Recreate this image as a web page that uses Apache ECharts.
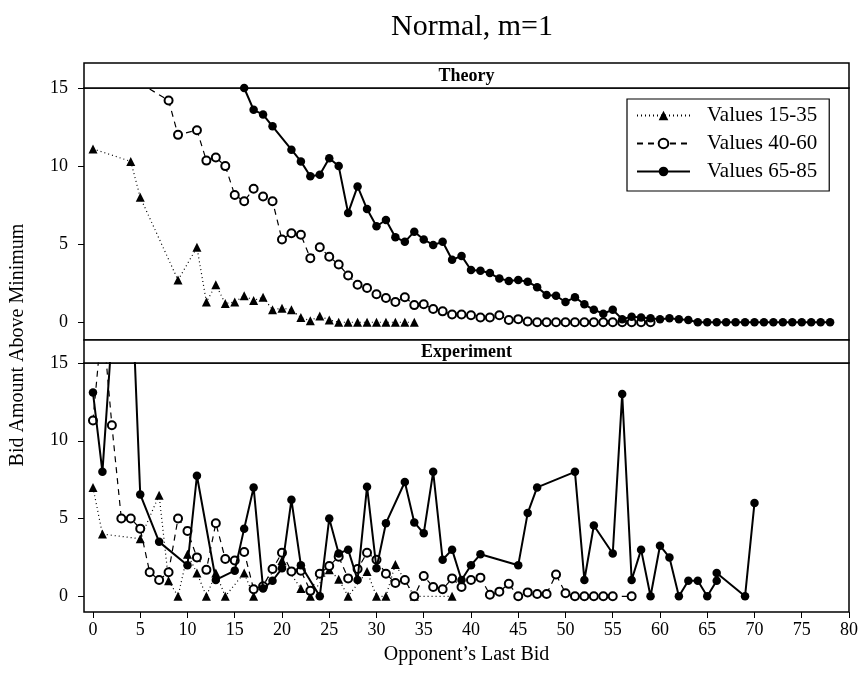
<!DOCTYPE html>
<html>
<head>
<meta charset="utf-8">
<script src="https://cdn.jsdelivr.net/npm/echarts@6/dist/echarts.min.js"></script>
<style>html,body{margin:0;padding:0;background:#fff}#c{width:862px;height:686px}</style>
</head>
<body>
<div id="c"></div>
<script>
// ---- Data ----
const xTicks = [0,5,10,15,20,25,30,35,40,45,50,55,60,65,70,75,80];
const yTicks = [0,5,10,15];
const seriesNames = ['Values 15-35','Values 40-60','Values 65-85'];

// Theory panel
const theoryX15 = [0,4,5,9,11,12,13,14,15,16,17,18,19,20,21,22,23,24,25,26,27,28,29,30,31,32,33,34];
const theoryY15 = [11.1,10.3,8.0,2.7,4.8,1.3,2.4,1.2,1.3,1.7,1.4,1.6,0.8,0.9,0.8,0.3,0.1,0.4,0.15,0,0,0,0,0,0,0,0,0];

const theoryX40 = [5,8,9,11,12,13,14,15,16,17,18,19,20,21,22,23,24,25,26,27,28,29,30,31,32,33,34,35,36,37,38,39,40,41,42,43,44,45,46,47,48,49,50,51,52,53,54,55,56,57,58,59];
const theoryY40 = [15.3,14.2,12.0,12.3,10.35,10.55,10.0,8.15,7.75,8.55,8.05,7.75,5.3,5.7,5.6,4.1,4.8,4.2,3.7,3.0,2.4,2.2,1.8,1.55,1.3,1.6,1.1,1.15,0.85,0.7,0.5,0.5,0.45,0.3,0.3,0.45,0.15,0.2,0.05,0,0,0,0,0,0,0,0,0,0,0,0,0];

const theoryX65 = [16,17,18,19,21,22,23,24,25,26,27,28,29,30,31,32,33,34,35,36,37,38,39,40,41,42,43,44,45,46,47,48,49,50,51,52,53,54,55,56,57,58,59,60,61,62,63,64,65,66,67,68,69,70,71,72,73,74,75,76,77,78];
const theoryY65 = [15.0,13.6,13.3,12.55,11.05,10.3,9.35,9.45,10.5,10.0,7.0,8.7,7.25,6.15,6.55,5.45,5.15,5.8,5.3,4.95,5.15,4.0,4.25,3.35,3.3,3.15,2.8,2.65,2.7,2.6,2.25,1.75,1.7,1.3,1.6,1.15,0.8,0.55,0.8,0.2,0.35,0.3,0.25,0.2,0.25,0.2,0.15,0,0,0,0,0,0,0,0,0,0,0,0,0,0,0];

// Experiment panel
const expX15 = [0,1,5,7,8,9,10,11,12,13,14,16,17,20,22,23,25,26,27,29,30,31,32,34,38];
const expY15 = [7.0,4.0,3.7,6.5,1.0,0,2.7,1.5,0,1.5,0,1.5,0,2.3,0.5,0,1.7,1.1,0,1.6,0,0,2.05,0,0];

const expX40 = [0,1,2,3,4,5,6,7,8,9,10,11,12,13,14,15,16,17,18,19,20,21,22,23,24,25,26,27,28,29,30,31,32,33,34,35,36,37,38,39,40,41,42,43,44,45,46,47,48,49,50,51,52,53,54,55,57];
const expY40 = [11.3,17.9,11.0,5.0,5.0,4.35,1.55,1.05,1.55,5.0,4.2,2.5,1.7,4.7,2.4,2.3,2.85,0.45,0.65,1.75,2.8,1.6,1.65,0.35,1.45,1.95,2.55,1.15,1.75,2.8,2.35,1.45,0.85,1.05,0,1.3,0.6,0.45,1.15,0.6,1.05,1.2,0.1,0.3,0.8,0,0.25,0.15,0.15,1.4,0.2,0,0,0,0,0,0];

const expX65 = [0,1,2,4,5,7,10,11,13,15,16,17,18,19,20,21,22,24,25,26,27,28,29,30,31,33,34,35,36,37,38,39,40,41,45,46,47,51,52,53,55,56,57,58,59,60,61,62,63,64,65,66,66,69,70];
const expY65 = [13.1,8.0,16.8,21.6,6.55,3.5,2.0,7.75,1.05,1.65,4.35,7.0,0.5,1.0,1.8,6.2,2.0,0,5.0,2.75,3.0,1.05,7.05,1.8,4.7,7.35,4.75,4.05,8.0,2.35,3.0,1.05,2.0,2.7,2.0,5.35,7.0,8.0,1.05,4.55,2.75,13.0,1.05,3.0,0,3.25,2.5,0,1.0,1.0,0,1.0,1.5,0,6.0];

// ---- Build ----
const zip = (xs, ys) => xs.map((x, i) => [x, ys[i]]);
const FONT = '"Liberation Serif", "DejaVu Serif", serif';

const styles = [
  { symbol: 'triangle', symbolSize: 9, itemStyle: { color: '#000' }, lineStyle: { color: '#000', width: 1.2, type: [1, 3] } },
  { symbol: 'emptyCircle', symbolSize: 8, itemStyle: { color: '#000', borderWidth: 1 }, lineStyle: { color: '#000', width: 1.2, type: [6, 5] } },
  { symbol: 'circle', symbolSize: 8.5, itemStyle: { color: '#000' }, lineStyle: { color: '#000', width: 2, type: 'solid' } }
];

function mk(name, idx, gi, data) {
  return Object.assign({
    name: name, type: 'line', xAxisIndex: gi, yAxisIndex: gi, data: data,
    showAllSymbol: true, clip: true, animation: false, z: 2 + idx
  }, JSON.parse(JSON.stringify(styles[idx])));
}

const series = [
  mk(seriesNames[0], 0, 0, zip(theoryX15, theoryY15)),
  mk(seriesNames[1], 1, 0, zip(theoryX40, theoryY40)),
  mk(seriesNames[2], 2, 0, zip(theoryX65, theoryY65)),
  mk(seriesNames[0], 0, 1, zip(expX15, expY15)),
  mk(seriesNames[1], 1, 1, zip(expX40, expY40)),
  mk(seriesNames[2], 2, 1, zip(expX65, expY65))
];

const L = 84, R = 849;
function xAx(gi, showLabels) {
  return {
    type: 'value', gridIndex: gi, min: -0.95, max: 80,
    axisLine: { show: false, onZero: false },
    splitLine: { show: false },
    axisTick: { show: showLabels, inside: false, length: 6, lineStyle: { color: '#000', width: 1 }, customValues: xTicks },
    axisLabel: { show: showLabels, color: '#000', fontFamily: FONT, fontSize: 18, margin: 9, customValues: xTicks },
    name: showLabels ? "Opponent\u2019s Last Bid" : '',
    nameLocation: 'middle', nameGap: 33,
    nameTextStyle: { color: '#000', fontFamily: FONT, fontSize: 20 }
  };
}
function yAx(gi, min) {
  return {
    type: 'value', gridIndex: gi, min: min, max: 15,
    axisLine: { show: false, onZero: false },
    splitLine: { show: false },
    axisTick: { show: true, inside: false, length: 6, lineStyle: { color: '#000', width: 1 }, customValues: yTicks },
    axisLabel: { show: true, color: '#000', fontFamily: FONT, fontSize: 18, margin: 16, customValues: yTicks }
  };
}

const chart = echarts.init(document.getElementById('c'), null, { renderer: 'canvas' });
chart.setOption({
  animation: false,
  backgroundColor: '#fff',
  title: {
    text: 'Normal, m=1', left: 386, top: 7,
    textStyle: { fontFamily: FONT, fontSize: 30, fontWeight: 'normal', color: '#000' }
  },
  grid: [
    { left: L, width: R - L, top: 88, height: 252, show: true, borderColor: '#000', borderWidth: 1.5, backgroundColor: 'transparent' },
    { left: L, width: R - L, top: 363, height: 249, show: true, borderColor: '#000', borderWidth: 1.5, backgroundColor: 'transparent' }
  ],
  xAxis: [xAx(0, false), xAx(1, true)],
  yAxis: [yAx(0, -1.135), yAx(1, -1.01)],
  legend: {
    orient: 'vertical', left: 627, top: 99,
    data: seriesNames,
    itemWidth: 53, itemHeight: 12, itemGap: 7,
    padding: [6, 12, 9, 9],
    borderColor: '#000', borderWidth: 1.2, backgroundColor: '#fff',
    textStyle: { fontFamily: FONT, fontSize: 21, lineHeight: 20, color: '#000', padding: [0, 0, 0, 12] }
  },
  graphic: [
    { type: 'rect', shape: { x: L, y: 63, width: R - L, height: 25 }, style: { fill: '#fff', stroke: '#000', lineWidth: 1.5 }, z: 1 },
    { type: 'text', x: (L + R) / 2, y: 76, style: { text: 'Theory', fontFamily: FONT, fontSize: 18, fontWeight: 'bold', fill: '#000', align: 'center', verticalAlign: 'middle' }, z: 2 },
    { type: 'rect', shape: { x: L, y: 340, width: R - L, height: 23 }, style: { fill: '#fff', stroke: '#000', lineWidth: 1.5 }, z: 1 },
    { type: 'text', x: (L + R) / 2, y: 352, style: { text: 'Experiment', fontFamily: FONT, fontSize: 18, fontWeight: 'bold', fill: '#000', align: 'center', verticalAlign: 'middle' }, z: 2 },
    { type: 'text', x: 18, y: 345, rotation: Math.PI / 2, style: { text: 'Bid Amount Above Minimum', fontFamily: FONT, fontSize: 20, fill: '#000', align: 'center', verticalAlign: 'middle' } }
  ],
  series: series
});
</script>
</body>
</html>
